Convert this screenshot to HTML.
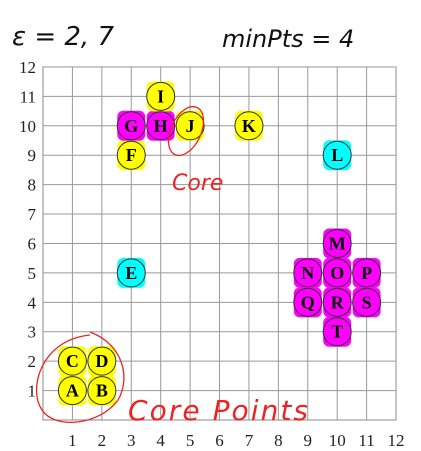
<!DOCTYPE html>
<html><head><meta charset="utf-8"><style>
html,body{margin:0;padding:0;background:#fff;width:421px;height:451px;overflow:hidden}
svg{display:block}
</style></head><body>
<svg id="chart" width="421" height="451" xmlns="http://www.w3.org/2000/svg">
<text x="12" y="45" font-family="DejaVu Sans" font-style="italic" font-size="26" fill="#111">ε = 2, 7</text>
<text x="222" y="47" font-family="DejaVu Sans" font-style="italic" font-size="24" fill="#111">minPts = 4</text>
<g id="grid"></g><g id="hl"></g><g id="pts"></g>
<g fill="none" stroke="#e22" stroke-width="1.3">
<ellipse cx="186" cy="131" rx="15" ry="26" transform="rotate(25 186 131)"/>
<path d="M90 335 C40 340 28 390 42 410 C55 430 100 425 118 400 C130 380 125 345 90 332"/>
</g>
<text x="172" y="190" font-family="DejaVu Sans" font-style="italic" font-size="22" fill="#e22">Core</text>
<text x="128" y="420" font-family="DejaVu Sans" font-style="italic" font-size="28" fill="#e22" textLength="180">Core Points</text>
</svg>
<script>
const labels=["A","B","C","D","E","F","G","H","I","J","K","L","M","N","O","P","Q","R","S","T"];
const xs=[1,2,1,2,3,3,3,4,4,5,7,10,10,9,10,11,9,10,11,10];
const ys=[1,1,2,2,5,9,10,10,11,10,10,9,6,5,5,5,4,4,4,3];
const fills=["#ffff00","#ffff00","#ffff00","#ffff00","#00ffff","#ffff00","#ff00ff","#ff00ff","#ffff00","#ffff00","#ffff00","#00ffff","#ff00ff","#ff00ff","#ff00ff","#ff00ff","#ff00ff","#ff00ff","#ff00ff","#ff00ff"];
const ticks=[1,2,3,4,5,6,7,8,9,10,11,12];
const X=v=>43+v*29.42, Y=v=>420-v*29.42;
const NS="http://www.w3.org/2000/svg";
function mk(t,a,p){const e=document.createElementNS(NS,t);for(const k in a)e.setAttribute(k,a[k]);p.appendChild(e);return e;}
const g=document.getElementById('grid');
mk('rect',{x:X(0),y:Y(12),width:X(12)-X(0),height:Y(0)-Y(12),fill:'none',stroke:'#888','stroke-width':1},g);
ticks.forEach(t=>{
 const l1=mk('line',{x1:X(t),x2:X(t),y1:Y(0),y2:Y(12),stroke:'#999','stroke-width':1},g);
 
 
 const l2=mk('line',{x1:X(0),x2:X(12),y1:Y(t),y2:Y(t),stroke:'#999','stroke-width':1},g);
 
 
 const tx=mk('text',{x:X(t),y:446,'text-anchor':'middle','font-family':'Liberation Serif','font-size':17,fill:'#222'},g);tx.textContent=t;
 
 
 const ty=mk('text',{x:36,y:Y(t)+6,'text-anchor':'end','font-family':'Liberation Serif','font-size':17,fill:'#222'},g);ty.textContent=t;
 
 
});
const hl=document.getElementById('hl'),pg=document.getElementById('pts');
labels.forEach((lb,i)=>{
 const h=mk('rect',{x:X(xs[i])-14,y:Y(ys[i])-15,width:28,height:30,rx:6,fill:fills[i]},hl);
 
 
 const c=mk('circle',{cx:X(xs[i]),cy:Y(ys[i]),r:14,fill:fills[i],stroke:'#333','stroke-width':1},pg);
 
 
 const t=mk('text',{x:X(xs[i]),y:Y(ys[i])+6,'text-anchor':'middle','font-family':'Liberation Serif','font-weight':'bold','font-size':18,fill:'#000'},pg);t.textContent=lb;
 
 
});
</script>
</body></html>
